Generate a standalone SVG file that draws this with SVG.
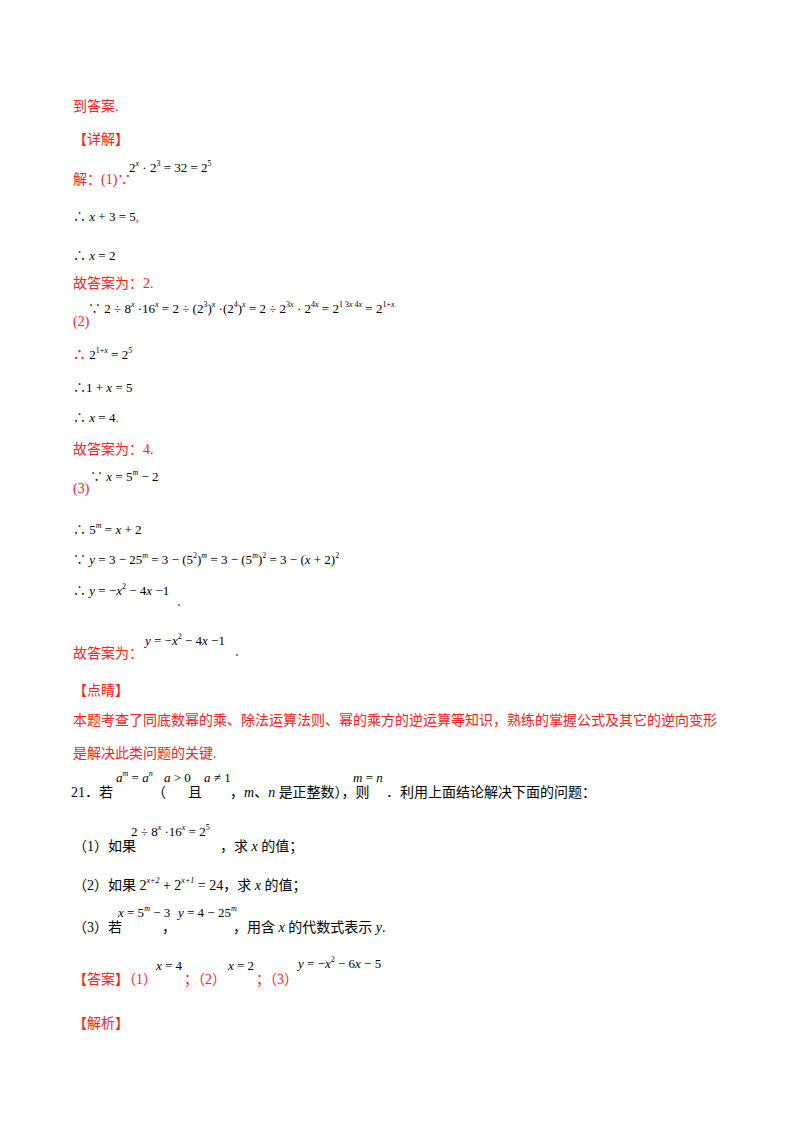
<svg xmlns="http://www.w3.org/2000/svg" width="800" height="1132" viewBox="0 0 800 1132">
<style>
text{font-family:"Liberation Serif","Noto Sans CJK SC",serif;font-size:14px;fill:#000}
.r{fill:#ff2020}
.m{font-size:13px}
.s{font-size:8px}
.i{font-style:italic}
</style>
<rect width="800" height="1132" fill="#fff"/>
<g id="page">
<text class="r" x="73" y="111">到答案.</text>
<text class="r" x="73" y="144">【详解】</text>
<text class="r" x="73" y="184">解：(1)∵</text>
<text class="m" x="129" y="172">2<tspan class="s i" dy="-6">x</tspan><tspan dy="6"> · 2</tspan><tspan class="s" dy="-6">3</tspan><tspan dy="6"> = 32 = 2</tspan><tspan class="s" dy="-6">5</tspan></text>
<text class="m" x="73" y="221">∴ <tspan class="i">x</tspan> + 3 = 5<tspan class="r">,</tspan></text>
<text class="m" x="73" y="260">∴ <tspan class="i">x</tspan> = 2</text>
<text class="r" x="73" y="288">故答案为：2.</text>
<text class="r" x="73" y="326">(2)</text>
<text class="m" x="88" y="313">∵ 2 ÷ 8<tspan class="s i" dy="-6">x</tspan><tspan dy="6"> ·16</tspan><tspan class="s i" dy="-6">x</tspan><tspan dy="6"> = 2 ÷ (2</tspan><tspan class="s" dy="-6">3</tspan><tspan dy="6">)</tspan><tspan class="s i" dy="-6">x</tspan><tspan dy="6"> ·(2</tspan><tspan class="s" dy="-6">4</tspan><tspan dy="6">)</tspan><tspan class="s i" dy="-6">x</tspan><tspan dy="6"> = 2 ÷ 2</tspan><tspan class="s" dy="-6">3<tspan class="i">x</tspan></tspan><tspan dy="6"> · 2</tspan><tspan class="s" dy="-6">4<tspan class="i">x</tspan></tspan><tspan dy="6"> = 2</tspan><tspan class="s" dy="-6">1  3<tspan class="i">x</tspan>  4<tspan class="i">x</tspan></tspan><tspan dy="6"> = 2</tspan><tspan class="s" dy="-6">1+<tspan class="i">x</tspan></tspan></text>
<text class="m" x="73" y="359"><tspan class="r" font-weight="bold">∴</tspan> 2<tspan class="s" dy="-6">1+<tspan class="i">x</tspan></tspan><tspan dy="6"> = 2</tspan><tspan class="s" dy="-6">5</tspan></text>
<text class="m" x="73" y="392">∴1 + <tspan class="i">x</tspan> = 5</text>
<text class="m" x="73" y="422">∴ <tspan class="i">x</tspan> = 4<tspan class="r">.</tspan></text>
<text class="r" x="73" y="454">故答案为：4.</text>
<text class="r" x="73" y="493">(3)</text>
<text class="m" x="90" y="481">∵ <tspan class="i">x</tspan> = 5<tspan class="s i" dy="-6">m</tspan><tspan dy="6"> − 2</tspan></text>
<text class="m" x="73" y="534">∴ 5<tspan class="s i" dy="-6">m</tspan><tspan dy="6"> = <tspan class="i">x</tspan> + 2</tspan></text>
<text class="m" x="73" y="564">∵ <tspan class="i">y</tspan> = 3 − 25<tspan class="s i" dy="-6">m</tspan><tspan dy="6"> = 3 − (5</tspan><tspan class="s" dy="-6">2</tspan><tspan dy="6">)</tspan><tspan class="s i" dy="-6">m</tspan><tspan dy="6"> = 3 − (5</tspan><tspan class="s i" dy="-6">m</tspan><tspan dy="6">)</tspan><tspan class="s" dy="-6">2</tspan><tspan dy="6"> = 3 − (<tspan class="i">x</tspan> + 2)</tspan><tspan class="s" dy="-6">2</tspan></text>
<text class="m" x="73" y="595">∴ <tspan class="i">y</tspan> = −<tspan class="i">x</tspan><tspan class="s" dy="-6">2</tspan><tspan dy="6"> − 4<tspan class="i">x</tspan> −1</tspan></text>
<circle cx="179" cy="605" r="1" fill="#ff2020"/>
<text class="r" x="73" y="658">故答案为：</text>
<text class="m" x="145" y="645"><tspan class="i">y</tspan> = −<tspan class="i">x</tspan><tspan class="s" dy="-6">2</tspan><tspan dy="6"> − 4<tspan class="i">x</tspan> −1</tspan></text>
<circle cx="237" cy="655" r="1" fill="#ff2020"/>
<text class="r" x="73" y="695">【点睛】</text>
<text class="r" x="73" y="725">本题考查了同底数幂的乘、除法运算法则、幂的乘方的逆运算等知识，熟练的掌握公式及其它的逆向变形</text>
<text class="r" x="73" y="758">是解决此类问题的关键.</text>
<text x="71" y="797">21．若</text>
<text class="m" x="116" y="782"><tspan class="i">a</tspan><tspan class="s i" dy="-6">m</tspan><tspan dy="6"> = <tspan class="i">a</tspan></tspan><tspan class="s i" dy="-6">n</tspan></text>
<text x="152" y="797">（</text>
<text class="m" x="164" y="782"><tspan class="i">a</tspan> &gt; 0</text>
<text x="188" y="797">且</text>
<text class="m" x="204" y="782"><tspan class="i">a</tspan> ≠ 1</text>
<text x="230" y="797">，<tspan class="i">m</tspan>、<tspan class="i">n</tspan> 是正整数），则</text>
<text class="m" x="353" y="782"><tspan class="i">m</tspan> = <tspan class="i">n</tspan></text>
<text x="386" y="797">．利用上面结论解决下面的问题：</text>
<text x="73" y="851">（1）如果</text>
<text class="m" x="131" y="836">2 ÷ 8<tspan class="s i" dy="-6">x</tspan><tspan dy="6"> ·16</tspan><tspan class="s i" dy="-6">x</tspan><tspan dy="6"> = 2</tspan><tspan class="s" dy="-6">5</tspan></text>
<text x="220" y="851">，求 <tspan class="i">x</tspan> 的值；</text>
<text x="73" y="890">（2）如果 2<tspan class="s i" dy="-7">x+2</tspan><tspan dy="7"> + 2</tspan><tspan class="s i" dy="-7">x+1</tspan><tspan dy="7"> = 24，求 <tspan class="i">x</tspan> 的值；</tspan></text>
<text x="73" y="932">（3）若</text>
<text class="m" x="118" y="917"><tspan class="i">x</tspan> = 5<tspan class="s i" dy="-6">m</tspan><tspan dy="6"> − 3</tspan></text>
<text x="162" y="932">，</text>
<text class="m" x="178" y="917"><tspan class="i">y</tspan> = 4 − 25<tspan class="s i" dy="-6">m</tspan></text>
<text x="233" y="932">，用含 <tspan class="i">x</tspan> 的代数式表示 <tspan class="i">y</tspan>.</text>
<text class="r" x="73" y="984">【答案】（1）</text>
<text class="m" x="156" y="970"><tspan class="i">x</tspan> = 4</text>
<text class="r" x="184" y="984">；（2）</text>
<text class="m" x="228" y="970"><tspan class="i">x</tspan> = 2</text>
<text class="r" x="256" y="984">；（3）</text>
<text class="m" x="298" y="968"><tspan class="i">y</tspan> = −<tspan class="i">x</tspan><tspan class="s" dy="-6">2</tspan><tspan dy="6"> − 6<tspan class="i">x</tspan> − 5</tspan></text>
<text class="r" x="73" y="1028">【解析】</text>
</g>
</svg>
